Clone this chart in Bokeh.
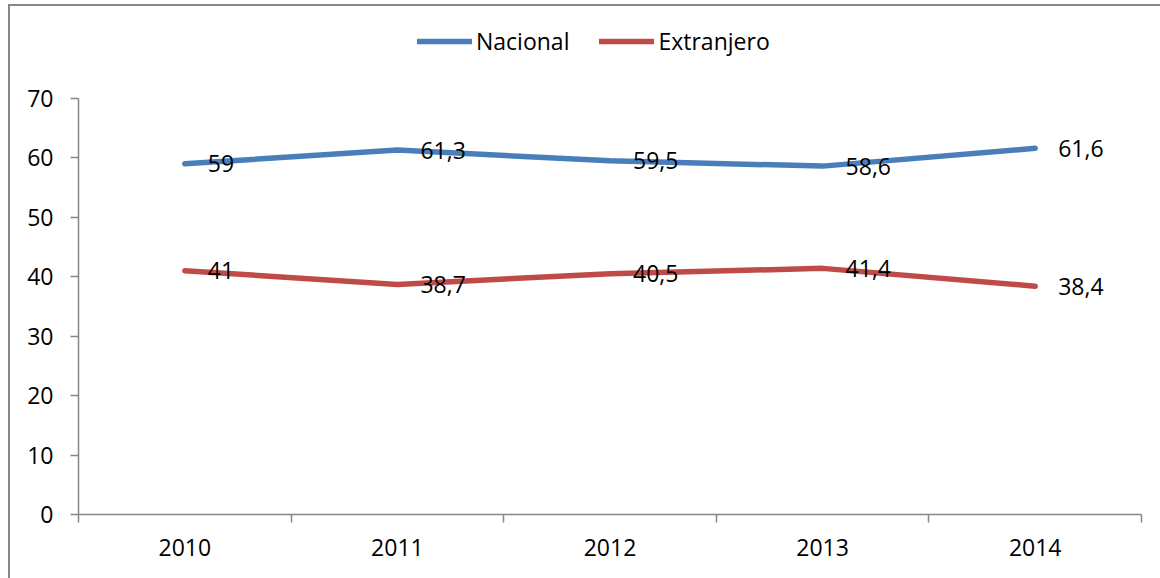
from bokeh.plotting import figure
from bokeh.models import (ColumnDataSource, Range1d, FixedTicker, LinearAxis,
                          Legend, LegendItem, LabelSet)
from bokeh.core.properties import value
from bokeh.embed import file_html
from bokeh.resources import INLINE

years = ["2010", "2011", "2012", "2013", "2014"]
nacional = [59, 61.3, 59.5, 58.6, 61.6]
extranjero = [41, 38.7, 40.5, 41.4, 38.4]
y_ticks = [0, 10, 20, 30, 40, 50, 60, 70]
y_max = 70

FONT = "Open Sans"
FS = "23px"
BLUE = "#4A7EBB"
RED = "#BE4B48"
GRAY = "#868686"

xs = [i + 0.5 for i in range(len(years))]

def fmt(v):
    return f"{v:g}".replace(".", ",")

src_n = ColumnDataSource(dict(x=xs, y=nacional, t=[fmt(v) for v in nacional]))
src_e = ColumnDataSource(dict(x=xs, y=extranjero, t=[fmt(v) for v in extranjero]))

# frame extends above the 70 line to hold the legend (axis/grid bounded at 70)
y_top = y_max * 495 / 417

p = figure(width=1152, height=574, output_backend="svg", toolbar_location=None,
           x_range=Range1d(0, len(years)), y_range=Range1d(0, y_top),
           x_axis_type=None, y_axis_type=None,
           min_border_left=68, min_border_right=21, min_border_top=14,
           min_border_bottom=66,
           styles={"border-top": "2px solid #868686", "border-left": "2px solid #868686",
                   "margin-left": "8px", "margin-top": "4px"})
p.outline_line_color = None
p.background_fill_color = "white"
p.border_fill_color = "white"

# Y axis
yax = LinearAxis(ticker=FixedTicker(ticks=y_ticks), bounds=(0, y_max))
yax.axis_line_color = GRAY
yax.axis_line_width = 1.5
yax.major_tick_line_color = GRAY
yax.major_tick_line_width = 1.5
yax.major_tick_out = 8
yax.major_tick_in = 0
yax.minor_tick_line_color = None
yax.major_label_text_font = FONT
yax.major_label_text_font_size = FS
yax.major_label_text_color = "black"
yax.major_label_standoff = 17
p.add_layout(yax, "left")

# X axis: labels at category centers, tick marks at category boundaries
xax = LinearAxis(ticker=FixedTicker(ticks=xs, minor_ticks=list(range(len(years) + 1))))
xax.major_label_overrides = {x: y for x, y in zip(xs, years)}
xax.axis_line_color = GRAY
xax.axis_line_width = 1.5
xax.major_tick_line_color = None
xax.major_tick_out = 0
xax.major_tick_in = 0
xax.minor_tick_line_color = GRAY
xax.minor_tick_line_width = 1.5
xax.minor_tick_out = 8
xax.minor_tick_in = 0
xax.major_label_text_font = FONT
xax.major_label_text_font_size = FS
xax.major_label_text_color = "black"
xax.major_label_standoff = 16
p.add_layout(xax, "below")

p.ygrid.ticker = FixedTicker(ticks=y_ticks)
p.ygrid.grid_line_color = GRAY
p.ygrid.grid_line_width = 1.5
p.xgrid.grid_line_color = None

rn = p.line("x", "y", source=src_n, line_color=BLUE, line_width=5.5, line_cap="round", line_join="round")
re_ = p.line("x", "y", source=src_e, line_color=RED, line_width=5.5, line_cap="round", line_join="round")

for src in (src_n, src_e):
    lab = LabelSet(x="x", y="y", text="t", source=src, x_offset=23, y_offset=0,
                   text_align="left", text_baseline="middle",
                   text_font=value(FONT), text_font_size=value(FS), text_color="black")
    p.add_layout(lab)

legend = Legend(items=[LegendItem(label="Nacional", renderers=[rn]),
                       LegendItem(label="Extranjero", renderers=[re_])],
                orientation="horizontal", location=(339, 457),
                label_text_font=FONT, label_text_font_size=FS, label_text_color="black",
                label_standoff=4, glyph_width=55, glyph_height=26,
                label_height=26, spacing=30, padding=0, margin=0,
                border_line_color=None, background_fill_alpha=0)
p.add_layout(legend, "center")

open("out.html", "w").write(file_html(p, INLINE))
